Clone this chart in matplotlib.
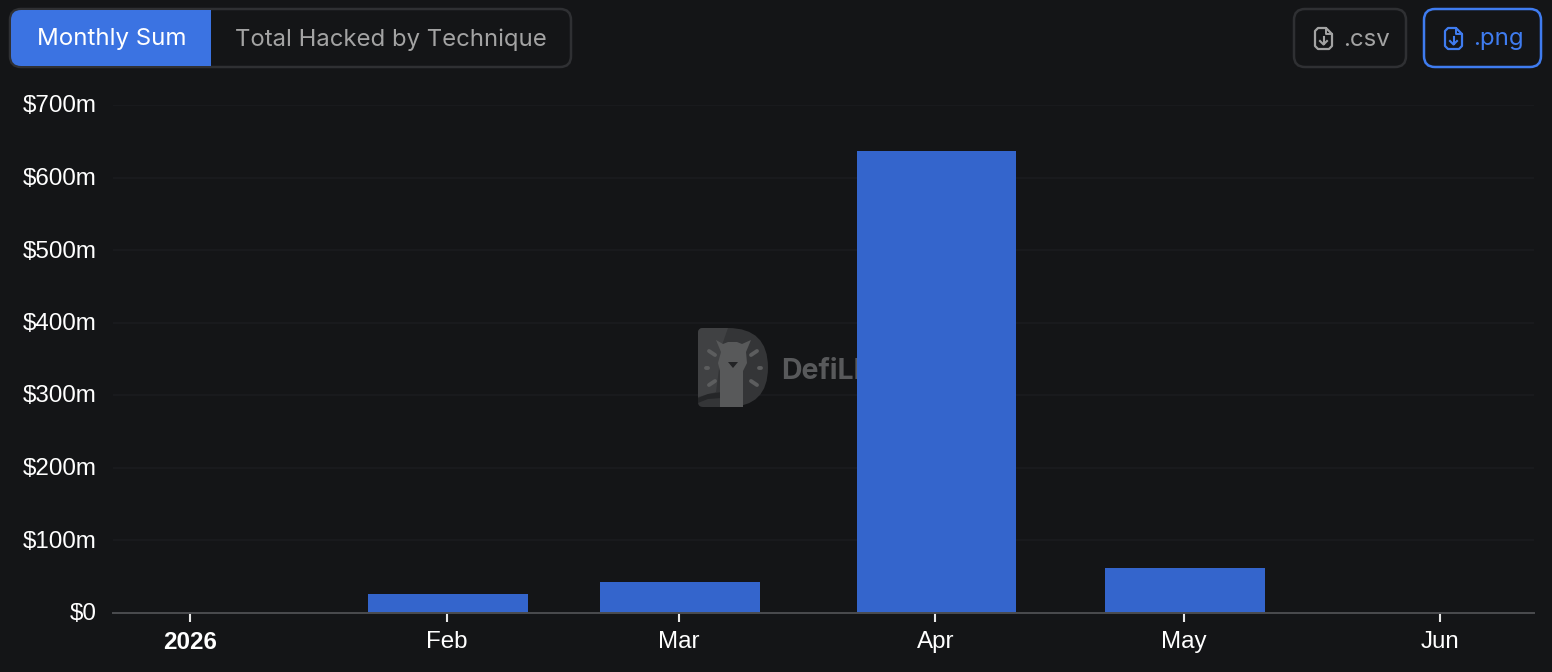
#!/usr/bin/env python3
import datetime as dt
import matplotlib
matplotlib.use('Agg')
import matplotlib.pyplot as plt
import matplotlib.dates as mdates
from matplotlib.patches import FancyBboxPatch, Rectangle, PathPatch, Polygon
from matplotlib.path import Path
from matplotlib.transforms import ScaledTranslation

# monthly hacked totals in $m
months = [dt.date(2026, 1, 1), dt.date(2026, 2, 1), dt.date(2026, 3, 1),
          dt.date(2026, 4, 1), dt.date(2026, 5, 1), dt.date(2026, 6, 1)]
hacked = [0, 25, 42, 636, 61, 0]
tick_labels = ['2026', 'Feb', 'Mar', 'Apr', 'May', 'Jun']
y_ticks = [0, 100, 200, 300, 400, 500, 600, 700]
y_labels = ['$0', '$100m', '$200m', '$300m', '$400m', '$500m', '$600m', '$700m']

W, H = 1552, 672
BG = '#141517'
BAR = '#3465cc'
ACCENT = '#3b73e2'
LINK = '#3f7cf0'
BORDER = '#2f3033'
MUTED = '#a3a3a3'
SANS = 'Liberation Sans'
UI = 'Inter'

fig = plt.figure(figsize=(W / 100, H / 100), dpi=100, facecolor=BG)

# layer in pixel coordinates for the buttons and the logo transform
top = fig.add_axes([0, 0, 1, 1], zorder=2)
top.set_xlim(0, W)
top.set_ylim(H, 0)
top.axis('off')
top.patch.set_alpha(0)


def rounded(ax, x0, y0, x1, y1, r, **kw):
    box = FancyBboxPatch((x0 + r, y0 + r), x1 - x0 - 2 * r, y1 - y0 - 2 * r,
                         boxstyle='round,pad=%f,rounding_size=%f' % (r, r), **kw)
    ax.add_patch(box)
    return box


def file_icon(ax, x, y, color):
    # outline of a page with a folded corner and a down arrow
    verts = [(x + 3, y), (x + 11, y), (x + 17, y + 6), (x + 17, y + 18),
             (x + 14, y + 21), (x + 3, y + 21), (x, y + 18), (x, y + 3)]
    ax.add_patch(Polygon(verts, closed=True, fill=False, edgecolor=color, lw=1.6, joinstyle='round'))
    ax.plot([x + 11, x + 11, x + 17], [y, y + 6, y + 6], color=color, lw=1.4)
    ax.plot([x + 8.5, x + 8.5], [y + 9, y + 16], color=color, lw=1.5)
    ax.plot([x + 5, x + 8.5, x + 12], [y + 13, y + 16.5, y + 13], color=color, lw=1.5)


def draw_logo(ax, tr):
    # D shaped badge, placed in pixel coordinates between the grid and the bars
    left, right, t, b = 698, 768, 328, 407
    mid = (t + b) / 2
    verts = [(left + 5, t), (left + 30, t),
             (right, t), (right, mid),
             (right, b), (left + 30, b),
             (left + 5, b), (left, b), (left, b - 5),
             (left, t + 5), (left, t), (left + 5, t)]
    codes = [Path.MOVETO, Path.LINETO,
             Path.CURVE3, Path.CURVE3,
             Path.CURVE3, Path.CURVE3,
             Path.LINETO, Path.CURVE3, Path.CURVE3,
             Path.LINETO, Path.CURVE3, Path.CURVE3]
    badge = PathPatch(Path(verts, codes), facecolor='#343537', edgecolor='none',
                      transform=tr, zorder=2, clip_on=False)
    ax.add_patch(badge)
    # lighter upper left corner and the darker sweep along the bottom
    corner = Polygon([(698, 328), (728, 328), (722, 345), (716, 392), (698, 397)], closed=True,
                     facecolor='#404143', edgecolor='none', transform=tr, zorder=2.1)
    ax.add_patch(corner)
    corner.set_clip_path(badge)
    sweep = Polygon([(698, 398), (708, 394), (722, 392), (722, 398), (708, 399), (698, 403)], closed=True,
                    facecolor='#252628', edgecolor='none', transform=tr, zorder=2.2)
    ax.add_patch(sweep)
    llama = [(716, 340), (723, 344), (728, 342), (737, 342), (742, 344), (751, 340),
             (746, 352), (747, 363), (743, 371), (743, 407), (720, 407), (720, 371),
             (718, 363), (721, 352)]
    ax.add_patch(Polygon(llama, closed=True, facecolor='#58595a', edgecolor='none',
                         transform=tr, zorder=2.3))
    ax.add_patch(Polygon([(728, 362), (738, 362), (733, 368)], closed=True, facecolor='#222325',
                         edgecolor='none', transform=tr, zorder=2.4))
    for x0, y0, x1, y1 in [(709, 351, 715, 355), (751, 355, 757, 351),
                           (706, 368, 708, 368), (759, 368, 761, 368),
                           (709, 385, 715, 381), (751, 381, 757, 385)]:
        ax.plot([x0, x1], [y0, y1], color='#5c5d5e', lw=2.8, solid_capstyle='round',
                transform=tr, zorder=2.3, clip_on=False)
    ax.text(781, 371.5, 'DefiLlama', color='#58595b', fontsize=20.5, fontweight='bold',
            family=UI, ha='left', va='center', transform=tr, zorder=2.3, clip_on=False)


# tab switcher
rounded(top, 10, 9, 571, 67, 11, facecolor=BG, edgecolor=BORDER, lw=1.8)
clip = rounded(top, 11, 10, 570, 66, 10, facecolor='none', edgecolor='none')
active = Rectangle((11, 10), 200, 56, facecolor=ACCENT, edgecolor='none')
top.add_patch(active)
active.set_clip_path(clip)
top.text(111.5, 39.5, 'Monthly Sum', color='white', fontsize=17.3, family=UI, ha='center', va='center')
top.text(391, 39.5, 'Total Hacked by Technique', color=MUTED, fontsize=17.2, family=UI, ha='center', va='center')

# download buttons
rounded(top, 1294, 9, 1406, 67, 11, facecolor=BG, edgecolor=BORDER, lw=1.8)
file_icon(top, 1315, 28, MUTED)
top.text(1343, 39.5, '.csv', color=MUTED, fontsize=17.3, family=UI, ha='left', va='center')
rounded(top, 1424, 9, 1541, 67, 11, facecolor=BG, edgecolor=LINK, lw=1.8)
file_icon(top, 1445, 28, LINK)
top.text(1473, 39.5, '.png', color=LINK, fontsize=17.3, family=UI, ha='left', va='center')

# the chart itself
ax = fig.add_axes([113 / W, (H - 612.5) / H, (1534 - 113) / W, (612.5 - 105) / H], zorder=1)
ax.patch.set_alpha(0)
ax.set_axisbelow(True)
# bars sit a pixel right of their ticks
ax.bar(mdates.date2num(months) + 0.15, hacked, width=19.3, color=BAR, edgecolor='none', zorder=3)

ax.set_xlim(mdates.date2num(dt.date(2026, 1, 1)) - 9.3, mdates.date2num(dt.date(2026, 1, 1)) + 162.3)
ax.set_ylim(0, 700)
ax.xaxis_date()
ax.set_xticks(mdates.date2num(months))
ax.set_xticklabels(tick_labels)
ax.set_yticks(y_ticks)
ax.set_yticklabels(y_labels)
ax.get_xticklabels()[0].set_fontweight('bold')

ax.grid(axis='y', color='#1b1c1f', lw=1.2)
for side in ['top', 'right', 'left']:
    ax.spines[side].set_visible(False)
ax.spines['bottom'].set_color('#4b4c4f')
ax.spines['bottom'].set_linewidth(1.4)
ax.spines['bottom'].set_zorder(4)

ax.tick_params(axis='x', colors='#e8e8e8', length=6.5, width=1.5, pad=7, labelsize=17.4)
ax.tick_params(axis='y', colors='white', length=0, pad=11.5, labelsize=17.4)
for lab in ax.get_xticklabels() + ax.get_yticklabels():
    lab.set_family(SANS)
    lab.set_color('white')
# nudge the y labels down a touch
nudge = ScaledTranslation(0, -1.5 / 100, fig.dpi_scale_trans)
for lab in ax.get_yticklabels():
    lab.set_verticalalignment('center')
    lab.set_transform(lab.get_transform() + nudge)

draw_logo(ax, top.transData)

fig.savefig('out.png', dpi=100, facecolor=BG)
